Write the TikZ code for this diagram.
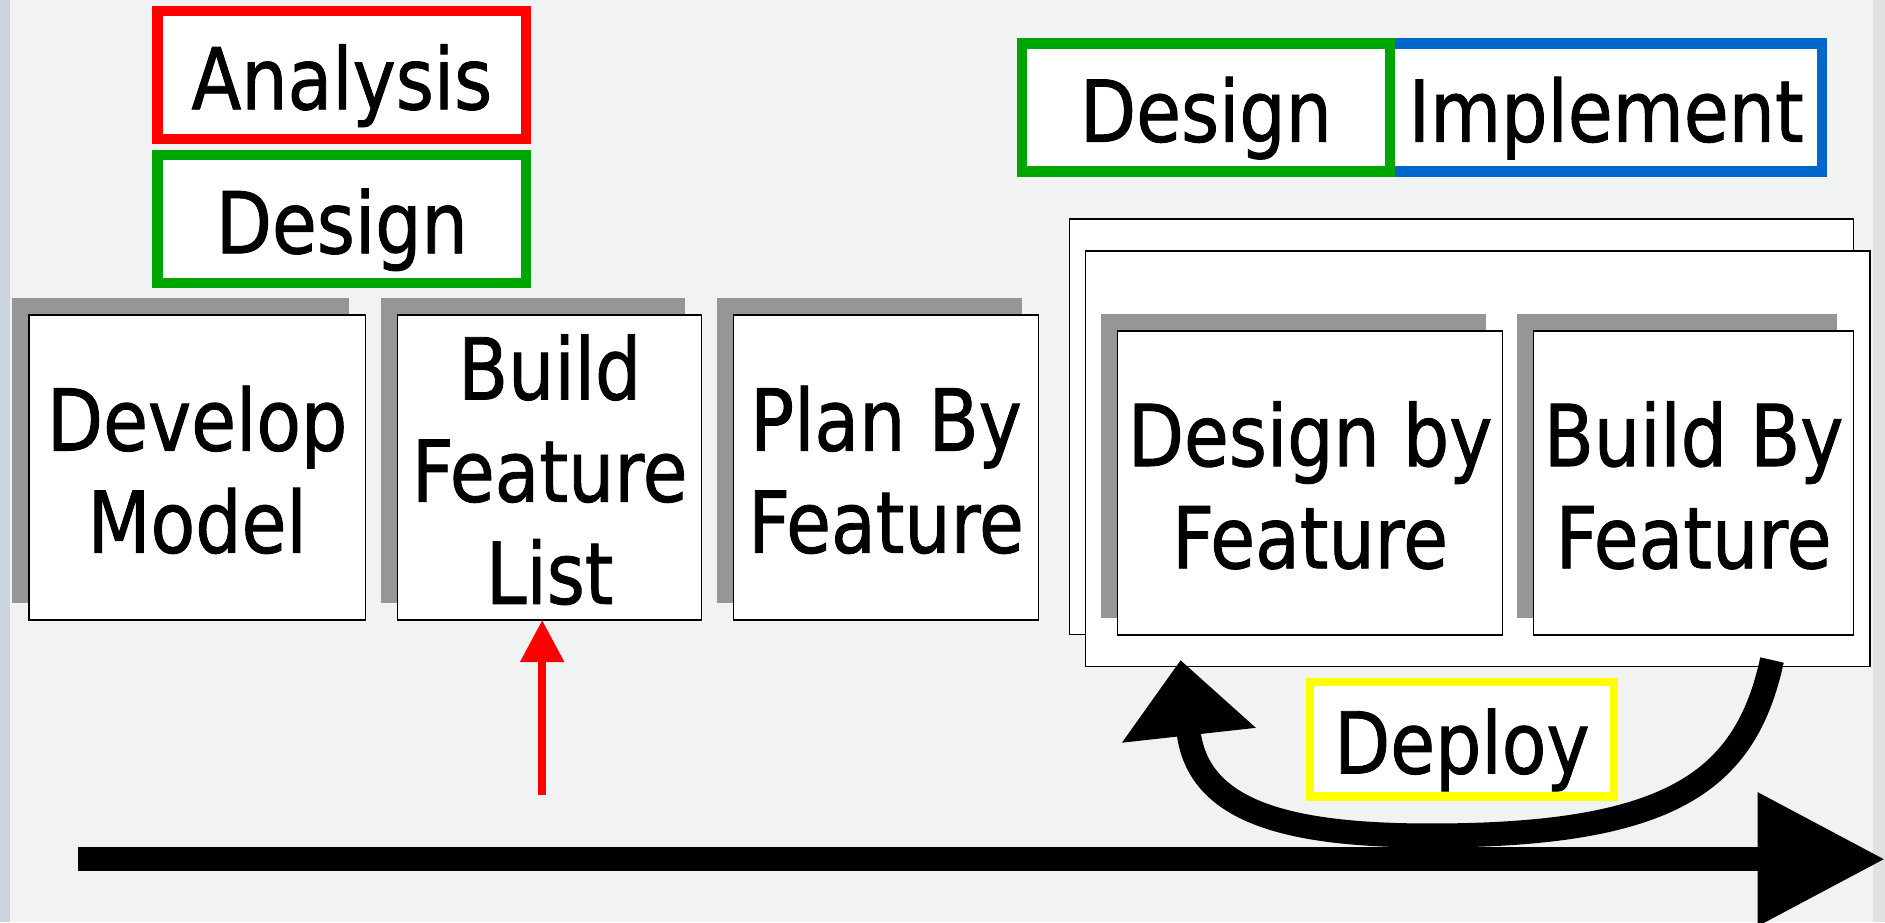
\documentclass[tikz,border=0pt]{standalone}
\usepackage{fontspec}
\setmainfont{DejaVu Sans}[FakeStretch=0.855, FakeBold=1]
\usetikzlibrary{arrows.meta,shadows}
\definecolor{bgc}{RGB}{241,243,243}
\definecolor{edgeblue}{RGB}{202,212,218}
\definecolor{edgegray}{RGB}{222,224,226}
\definecolor{shadowgray}{RGB}{150,150,150}
\definecolor{pgreen}{RGB}{0,166,0}
\definecolor{pblue}{RGB}{0,102,204}
\definecolor{pred}{RGB}{255,0,0}
\definecolor{pyellow}{RGB}{255,255,0}
\begin{document}
\begin{tikzpicture}[x=1pt,y=-1pt,
  lbl/.style={font=\fontsize{71pt}{85pt}\selectfont, align=center, inner sep=0pt, outer sep=0pt},
  oneline/.style={text height=56.8pt, text depth=0pt},
  twolines/.style={text height=141.8pt, text depth=0pt},
  threelines/.style={text height=226.8pt, text depth=0pt},
  tag/.style={lbl, oneline, draw, fill=white, line width=8.5pt},
  card/.style={lbl, draw=black, line width=1.2pt, fill=white,
    general shadow={fill=shadowgray, draw=none, shadow xshift=-14pt, shadow yshift=14pt}},
  sheet/.style={draw=black, line width=1.2pt, fill=white, inner sep=0pt, outer sep=0pt},
]
% background
\fill[bgc] (0,0) rectangle (1568,767);
\fill[edgeblue] (0,0) rectangle (8,767);
\fill[edgegray] (1558,0) rectangle (1568,767);
\useasboundingbox (0,0) rectangle (1568,767);

% phase tags
\node[tag, draw=pred, minimum width=306.5pt, minimum height=106.5pt] (ana) at (284.3,62.5) {Analysis};
\node[tag, draw=pgreen, minimum width=306.5pt, minimum height=106.5pt] (des1) at (284.3,182.3) {Design};
\node[tag, draw=pblue, minimum width=359.5pt, minimum height=106.6pt] (impl) at (1336,89.45) {Implement};
\node[tag, draw=pgreen, minimum width=306pt, minimum height=106.6pt] (des2) at (1003.15,89.45) {Design};

% process cards
\node[card, twolines, minimum width=280pt, minimum height=253.7pt] (dm) at (164,388.9) {Develop\\Model};
\node[card, threelines, minimum width=253pt, minimum height=253.7pt] (bfl) at (457.25,388.9) {Build\\Feature\\List};
\node[card, twolines, minimum width=254pt, minimum height=253.7pt] (pbf) at (737,388.9) {Plan By\\Feature};

% stacked iteration sheets
\node[sheet, minimum width=652.5pt, minimum height=346pt] (back) at (1215.75,355) {};
\node[sheet, minimum width=652.6pt, minimum height=345.7pt] (front) at (1229.3,381.65) {};
\node[card, twolines, minimum width=320.4pt, minimum height=252.8pt] (dbf) at (1089.8,401.8) {Design by\\Feature};
\node[card, twolines, minimum width=266.4pt, minimum height=252.8pt] (bbf) at (1408.8,401.8) {Build By\\Feature};

% deploy loop
\coordinate (ct) at (1474,549);
\coordinate (cb) at (1190,695);
\coordinate (ch) at (982,549);
\draw[line width=20pt, -{Triangle[length=63pt,width=108pt]}]
  (ct) .. controls (1452,650) and (1390,695) .. (cb)
       .. controls (1070,695) and (996,675) .. (ch);
\node[tag, draw=pyellow, line width=7pt, minimum width=253pt, minimum height=95pt] (dep) at (1216,615) {Deploy};

% timeline
\coordinate (t0) at (64.7,714.7);
\coordinate (t1) at (1568,714.7);
\draw[line width=19.5pt, -{Triangle[length=106pt,width=106pt]}] (t0) -- (t1);

% red marker
\coordinate (rt) at (451,661);
\draw[pred, line width=7pt, -{Triangle[length=35pt,width=35pt]}] (rt) -- (rt |- bfl.south);
\end{tikzpicture}
\end{document}
